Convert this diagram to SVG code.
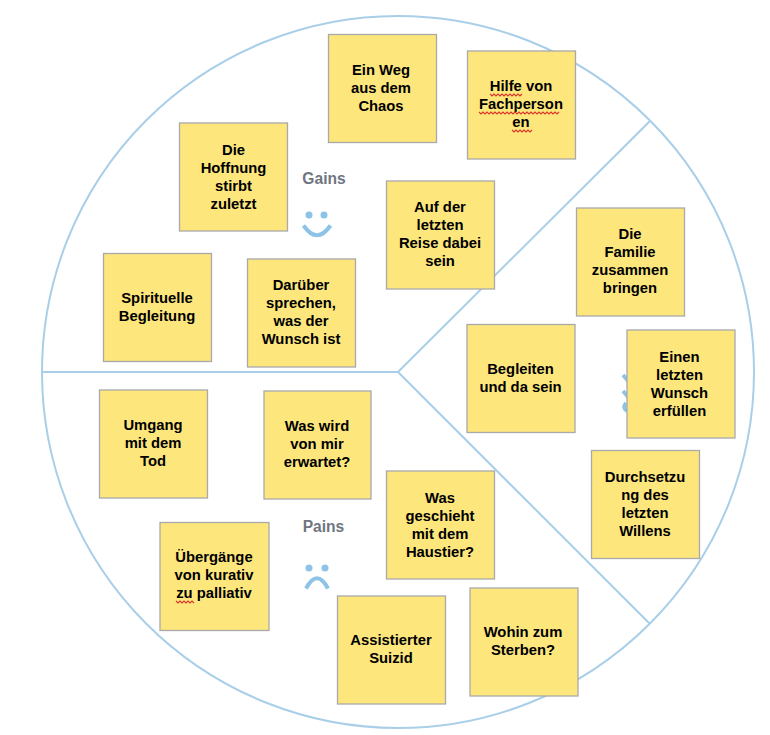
<svg xmlns="http://www.w3.org/2000/svg" width="770" height="735" viewBox="0 0 770 735">
<style>
.c{fill:none;stroke:#a9cfe8;stroke-width:2}
.n{fill:#fde77d;stroke:#a9a9a9;stroke-width:1.3}
.t{font:bold 14.8px "Liberation Sans",Arial,sans-serif;fill:#000;text-anchor:middle}
.l{font:bold 15.6px "Liberation Sans",Arial,sans-serif;fill:#6f7680;text-anchor:middle}
.s{fill:none;stroke:#8cc3e6;stroke-width:4}
.e{fill:#8cc3e6}
.w{fill:none;stroke:#d9362b;stroke-width:1.1}
</style>
<rect width="770" height="735" fill="#fff"/>
<g id="connectors">
<circle class="c" cx="398" cy="372" r="356"/>
<path class="c" d="M42 372H398L650 121M398 372L650 624"/>
</g>
<g id="label-gains"><text class="l" x="324" y="183.500">Gains</text>
<circle class="e" cx="309" cy="215" r="3.500"/><circle class="e" cx="324" cy="215" r="3.500"/><path class="s" d="M303.500 225.500Q317 245 330.500 225.500"/></g>
<g id="label-pains"><text class="l" x="323.500" y="531.500">Pains</text>
<circle class="e" cx="309" cy="568" r="3.500"/><circle class="e" cx="325" cy="568" r="3.500"/><path class="s" d="M306 588.500Q317 568 328 588.500"/></g>
<g id="smiley-hidden"><path class="s" d="M623 375L629 382M623 391L629 398M626 403Q622 408 627 411"/></g>
<g id="n1"><rect class="n" x="328.500" y="34.500" width="108" height="108"/><text class="t" x="381" y="75">Ein Weg</text><text class="t" x="381" y="93">aus dem</text><text class="t" x="381" y="111">Chaos</text></g>
<g id="n2"><rect class="n" x="467.500" y="51" width="108" height="108"/><text class="t" x="521" y="91">Hilfe von</text><text class="t" x="521" y="109">Fachperson</text><text class="t" x="521" y="127">en</text>
<path class="w" d="M490 94l2 2 2-2 2 2 2-2 2 2 2-2 2 2 2-2 2 2 2-2 2 2 2-2 2 2 2-2 2 2 2-2M479 112l2 2 2-2 2 2 2-2 2 2 2-2 2 2 2-2 2 2 2-2 2 2 2-2 2 2 2-2 2 2 2-2 2 2 2-2 2 2 2-2 2 2 2-2 2 2 2-2 2 2 2-2 2 2 2-2 2 2 2-2 2 2 2-2 2 2 2-2 2 2 2-2 2 2 2-2 2 2 2-2M512 130l2 2 2-2 2 2 2-2 2 2 2-2 2 2 2-2 2 2 2-2"/></g>
<g id="n3"><rect class="n" x="179.500" y="123" width="108" height="108"/><text class="t" x="233.500" y="155">Die</text><text class="t" x="233.500" y="173">Hoffnung</text><text class="t" x="233.500" y="191">stirbt</text><text class="t" x="233.500" y="209">zuletzt</text></g>
<g id="n4"><rect class="n" x="386.500" y="181" width="108" height="108"/><text class="t" x="440" y="212">Auf der</text><text class="t" x="440" y="230">letzten</text><text class="t" x="440" y="248">Reise dabei</text><text class="t" x="440" y="266">sein</text></g>
<g id="n5"><rect class="n" x="103.500" y="253.500" width="108" height="108"/><text class="t" x="157" y="303">Spirituelle</text><text class="t" x="157" y="321">Begleitung</text></g>
<g id="n6"><rect class="n" x="247.500" y="259" width="108" height="108"/><text class="t" x="301" y="290">Darüber</text><text class="t" x="301" y="308">sprechen,</text><text class="t" x="301" y="326">was der</text><text class="t" x="301" y="344">Wunsch ist</text></g>
<g id="n7"><rect class="n" x="576.500" y="208" width="108" height="108"/><text class="t" x="630" y="239">Die</text><text class="t" x="630" y="257">Familie</text><text class="t" x="630" y="275">zusammen</text><text class="t" x="630" y="293">bringen</text></g>
<g id="n8"><rect class="n" x="467" y="324.500" width="108" height="108"/><text class="t" x="520.500" y="374">Begleiten</text><text class="t" x="520.500" y="392">und da sein</text></g>
<g id="n9"><rect class="n" x="627" y="330" width="108" height="108"/><text class="t" x="679.500" y="362">Einen</text><text class="t" x="679.500" y="380">letzten</text><text class="t" x="679.500" y="398">Wunsch</text><text class="t" x="679.500" y="416">erfüllen</text></g>
<g id="n10"><rect class="n" x="591.500" y="450.500" width="108" height="108"/><text class="t" x="645" y="482">Durchsetzu</text><text class="t" x="645" y="500">ng des</text><text class="t" x="645" y="518">letzten</text><text class="t" x="645" y="536">Willens</text></g>
<g id="n11"><rect class="n" x="99.500" y="390" width="108" height="108"/><text class="t" x="153" y="430">Umgang</text><text class="t" x="153" y="448">mit dem</text><text class="t" x="153" y="466">Tod</text></g>
<g id="n12"><rect class="n" x="264" y="391" width="107" height="108"/><text class="t" x="317" y="431">Was wird</text><text class="t" x="317" y="449">von mir</text><text class="t" x="317" y="467">erwartet?</text></g>
<g id="n13"><rect class="n" x="386.500" y="471" width="108" height="108"/><text class="t" x="440" y="503">Was</text><text class="t" x="440" y="521">geschieht</text><text class="t" x="440" y="539">mit dem</text><text class="t" x="440" y="557">Haustier?</text></g>
<g id="n14"><rect class="n" x="160" y="522.500" width="109" height="108"/><text class="t" x="214" y="562">Übergänge</text><text class="t" x="214" y="580">von kurativ</text><text class="t" x="214" y="598">zu palliativ</text>
<path class="w" d="M176 601l2 2 2-2 2 2 2-2 2 2 2-2 2 2 2-2 2 2"/></g>
<g id="n15"><rect class="n" x="337.500" y="596" width="108" height="108"/><text class="t" x="391" y="645">Assistierter</text><text class="t" x="391" y="663">Suizid</text></g>
<g id="n16"><rect class="n" x="470" y="588" width="108" height="108"/><text class="t" x="523" y="637">Wohin zum</text><text class="t" x="523" y="655">Sterben?</text></g>
</svg>
